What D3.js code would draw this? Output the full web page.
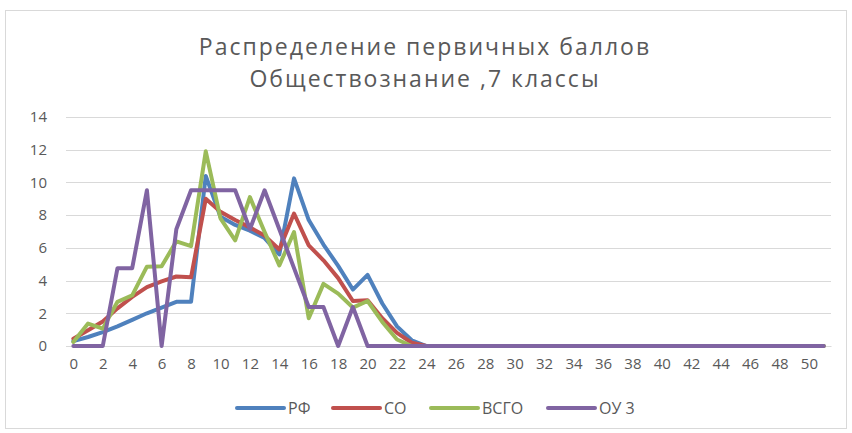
<!DOCTYPE html>
<html>
<head>
<meta charset="utf-8">
<script src="https://cdn.jsdelivr.net/npm/d3@7"></script>
<style>
  body { margin: 0; background: #fff; }
  svg { display: block; font-family: "Open Sans", "DejaVu Sans", sans-serif; }
</style>
</head>
<body>
<svg id="chart" width="852" height="433"></svg>
<script>
// scores 0..51
const scores = d3.range(0, 52);
const tickLabels = d3.range(0, 52, 2);
const yTicks = [0, 2, 4, 6, 8, 10, 12, 14];

const titleLines = ["Распределение первичных баллов", "Обществознание ,7 классы"];
const seriesNames = ["РФ", "СО", "ВСГО", "ОУ 3"];
const seriesColors = ["#4f81bd", "#c0504d", "#9bbb59", "#8064a2"];

// percent of participants per score, first 25 scores; the rest are 0
const rf   = [0.3, 0.55, 0.85, 1.2, 1.6, 2.0, 2.35, 2.7, 2.7, 10.4, 7.9, 7.4, 7.05, 6.6, 5.6, 10.25, 7.7, 6.2, 4.9, 3.45, 4.35, 2.6, 1.2, 0.35, 0];
const so   = [0.45, 0.96, 1.5, 2.3, 3.0, 3.6, 3.95, 4.25, 4.2, 9.0, 8.2, 7.7, 7.25, 6.75, 5.9, 8.1, 6.15, 5.24, 4.15, 2.75, 2.8, 1.7, 0.8, 0.2, 0];
const vsgo = [0.25, 1.37, 1.06, 2.7, 3.1, 4.85, 4.87, 6.4, 6.1, 11.9, 7.8, 6.46, 9.1, 6.97, 4.93, 6.97, 1.7, 3.8, 3.2, 2.35, 2.75, 1.47, 0.4, 0, 0];
const ou3  = [0, 0, 0, 4.76, 4.76, 9.52, 0, 7.14, 9.52, 9.52, 9.52, 9.52, 7.14, 9.52, 7.14, 4.76, 2.38, 2.38, 0, 2.38, 0, 0, 0, 0, 0];

const pad = arr => scores.map((s, i) => i < arr.length ? arr[i] : 0);
const series = [rf, so, vsgo, ou3].map((arr, k) => ({ name: seriesNames[k], color: seriesColors[k], values: pad(arr) }));

const svg = d3.select("#chart");
const textColor = "#595959";

svg.append("rect")
    .attr("x", 5.5).attr("y", 10.5)
    .attr("width", 841).attr("height", 418)
    .attr("fill", "none")
    .attr("stroke", "#d9d9d9");

const x = d3.scalePoint()
    .domain(scores)
    .range([66, 831])
    .padding(0.5);

const y = d3.scaleLinear()
    .domain([0, 14])
    .range([346, 117]);

// title
svg.append("g").selectAll("text")
    .data(titleLines)
    .enter().append("text")
    .attr("x", 425)
    .attr("y", (d, i) => 55 + i * 32)
    .attr("text-anchor", "middle")
    .attr("font-size", 23)
    .attr("letter-spacing", 2)
    .attr("fill", textColor)
    .text(d => d);

// grid
svg.append("g").selectAll("line")
    .data(yTicks)
    .enter().append("line")
    .attr("x1", 66).attr("x2", 831)
    .attr("y1", d => Math.round(y(d)) + 0.5)
    .attr("y2", d => Math.round(y(d)) + 0.5)
    .attr("stroke", "#d9d9d9")
    .attr("stroke-width", 1);

// y axis labels
const yAxis = svg.append("g")
    .attr("transform", "translate(66,0)")
    .call(d3.axisLeft(y).tickValues(yTicks).tickSize(0).tickPadding(19));
yAxis.select(".domain").remove();
yAxis.selectAll("text")
    .attr("font-size", 15)
    .attr("font-family", "\"Open Sans\", sans-serif")
    .attr("fill", textColor);

// x axis
const xAxis = svg.append("g")
    .attr("transform", "translate(0,346)")
    .call(d3.axisBottom(x).tickValues(tickLabels).tickSize(0).tickPadding(12));
xAxis.select(".domain").attr("stroke", "#d9d9d9");
xAxis.selectAll("text")
    .attr("font-size", 15)
    .attr("font-family", "\"Open Sans\", sans-serif")
    .attr("fill", textColor);

// lines
const line = d3.line()
    .x((d, i) => x(scores[i]))
    .y(d => y(d));

svg.append("g").selectAll("path")
    .data(series)
    .enter().append("path")
    .attr("d", d => line(d.values))
    .attr("fill", "none")
    .attr("stroke", d => d.color)
    .attr("stroke-width", 4)
    .attr("stroke-linejoin", "round")
    .attr("stroke-linecap", "round");

// legend
const legendX = [237, 333, 431, 548];
const legend = svg.append("g").selectAll("g")
    .data(series)
    .enter().append("g")
    .attr("transform", (d, i) => `translate(${legendX[i]},408)`);
legend.append("line")
    .attr("x1", 0).attr("x2", 47)
    .attr("stroke", d => d.color)
    .attr("stroke-width", 4)
    .attr("stroke-linecap", "round");
legend.append("text")
    .attr("x", 51)
    .attr("dy", "0.35em")
    .attr("font-size", 16)
    .attr("fill", textColor)
    .text(d => d.name);
</script>
</body>
</html>
